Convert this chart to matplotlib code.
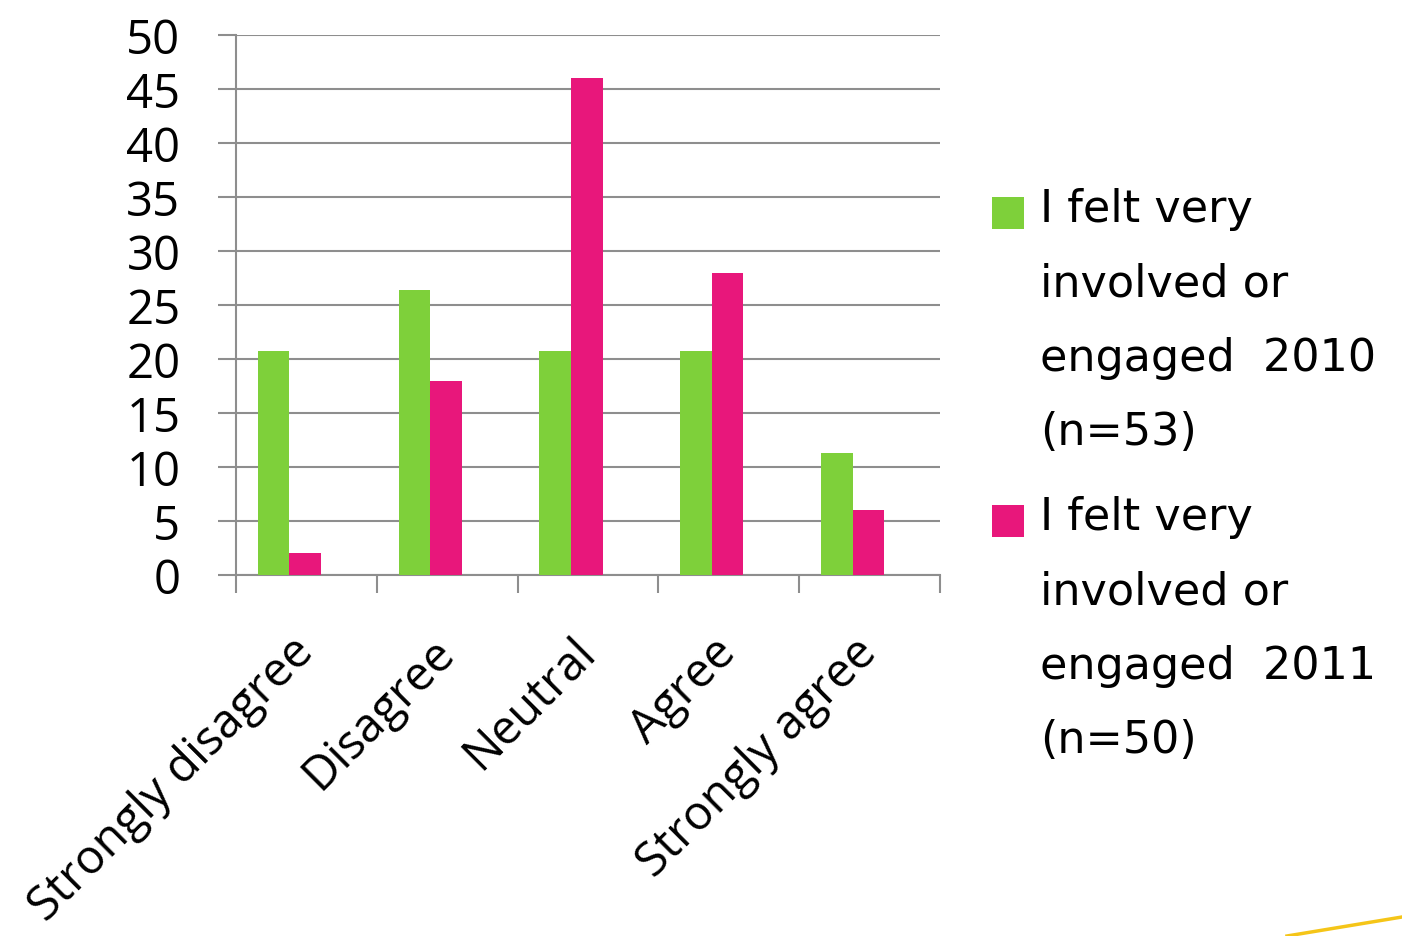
import matplotlib.pyplot as plt
from matplotlib.patches import Rectangle
from matplotlib.lines import Line2D
import numpy as np

# survey responses, percent of respondents
categories = ["Strongly disagree", "Disagree", "Neutral", "Agree", "Strongly agree"]
pct_2010 = [20.75, 26.42, 20.75, 20.75, 11.32]
pct_2011 = [2, 18, 46, 28, 6]
legend_labels = [
    "I felt very\ninvolved or\nengaged  2010\n(n=53)",
    "I felt very\ninvolved or\nengaged  2011\n(n=50)",
]

green = "#7ED03A"
pink = "#E8177B"
grid_gray = "#8E8E8E"

plt.rcParams["font.family"] = ["Open Sans", "DejaVu Sans"]

fig = plt.figure(figsize=(14.02, 9.37), dpi=100)
ax = fig.add_axes([0.1683, 0.3853, 0.5021, 0.5763])

x = np.arange(len(categories))
width = 0.224
ax.bar(x + 0.156 + width / 2, pct_2010, width, color=green, zorder=3)
ax.bar(x + 0.156 + 1.5 * width, pct_2011, width, color=pink, zorder=3)

ax.set_xlim(0, len(categories))
ax.set_ylim(0, 50)

# y axis: gridlines every 5 with outward ticks in the same grey
ax.set_yticks(np.arange(0, 51, 5))
ax.yaxis.grid(True, color=grid_gray, linewidth=1.5, zorder=0)
ax.tick_params(axis="y", length=13, width=1.5, color=grid_gray, pad=27,
               labelsize=34)

# x axis: ticks at category boundaries, labels at centres
ax.set_xticks(np.arange(len(categories) + 1))
ax.set_xticklabels([])
ax.tick_params(axis="x", which="major", length=13, width=1.5, color=grid_gray)
ax.set_xticks(x + 0.5, minor=True)
ax.set_xticklabels(categories, minor=True, rotation=45, ha="right",
                   va="center", rotation_mode="anchor", fontsize=34)
ax.tick_params(axis="x", which="minor", length=0, pad=50)

for side in ["top", "right"]:
    ax.spines[side].set_visible(False)
for side in ["left", "bottom"]:
    ax.spines[side].set_color(grid_gray)
    ax.spines[side].set_linewidth(1.5)

# legend drawn by hand so the patch sits on the first text line
W, H = 1402, 937
for i, (label, color) in enumerate(zip(legend_labels, [green, pink])):
    top = 198 + i * 308
    fig.add_artist(Rectangle((992 / W, 1 - (top + 32) / H), 32 / W, 32 / H,
                             facecolor=color, edgecolor="none",
                             transform=fig.transFigure))
    fig.text(1040 / W, 1 - (top - 10) / H, label, fontsize=32,
             family="DejaVu Sans", va="top", ha="left", linespacing=1.92)

# slide accent line in the corner
fig.add_artist(Line2D([1287 / W, 1402 / W], [0.0, 1 - 918 / H],
                      color="#F5C518", linewidth=2.5,
                      transform=fig.transFigure))

fig.savefig("out.png", dpi=100)
